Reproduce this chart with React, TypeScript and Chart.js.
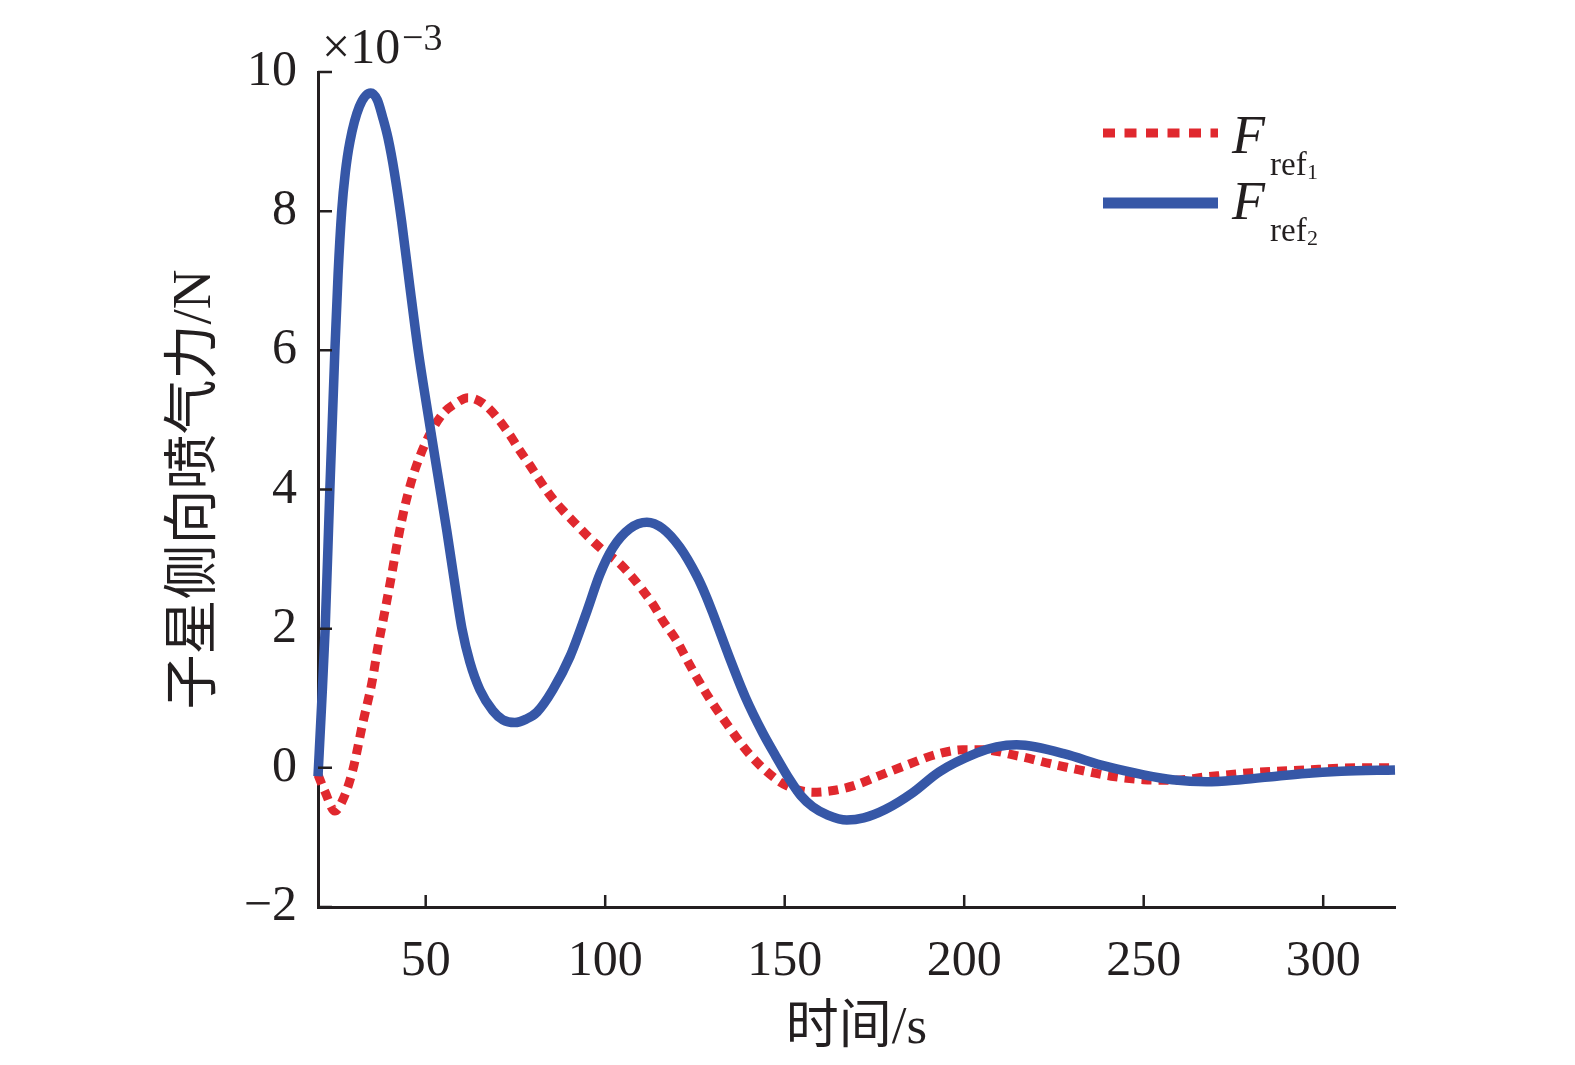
import { useEffect, useRef } from "react";
import { Chart, registerables } from "chart.js";

Chart.register(...registerables);

// time (s) and force (×10^-3 N)
const timeRef1 = [
  20, 22, 24.7, 27, 29.7, 32.5, 35, 36.7, 38.7, 40.6, 42.3, 44.2, 46.2, 48.4, 51.2, 54.8, 58.7, 61.8,
  65.9, 69.8, 73.5, 76.2, 79, 81.8, 84.6, 88.2, 92.1, 95.7, 99.3, 104, 107.7, 110.5, 113.3, 116, 120,
  122.7, 125.5, 129, 133.9, 140.3, 147.8, 152.5, 157.8, 163, 169, 176, 184, 192, 199.6, 205, 215, 224,
  232, 241, 250, 258, 267.5, 280, 295, 310, 320,
];
const forceRef1 = [
  -0.1, -0.35, -0.62, -0.45, -0.03, 0.65, 1.22, 1.74, 2.27, 2.8, 3.29, 3.76, 4.15, 4.48, 4.8, 5.09, 5.25, 5.32,
  5.24, 5.04, 4.78, 4.56, 4.35, 4.13, 3.92, 3.7, 3.49, 3.3, 3.13, 2.94, 2.73, 2.55, 2.35, 2.12, 1.82,
  1.56, 1.3, 1.0, 0.63, 0.19, -0.17, -0.3, -0.35, -0.33, -0.26, -0.12, 0.04, 0.19, 0.26, 0.26, 0.17, 0.06,
  -0.03, -0.12, -0.17, -0.18, -0.13, -0.07, -0.03, 0, 0,
];

const timeRef2 = [
  20, 21, 22, 23.3, 24.7, 25.6, 26.6, 27.6, 28.9, 31.5, 34.7, 36.5, 38, 39.5, 41.3, 43.3, 45.5, 47.9,
  50.6, 53.4, 55.9, 58, 60.1, 62.3, 65.1, 68.7, 71.5, 74.8, 78, 81, 85.4, 90.2, 94.9, 98.5, 102.1,
  106.9, 111.6, 116, 120.8, 125.5, 128, 130, 134.5, 139, 143.9, 147.5, 151.4, 154.5, 157.8, 162, 167.3,
  172, 178, 185.6, 193, 203.4, 209, 214.6, 220, 228, 239.6, 250, 258, 267.5, 277, 287, 295, 305, 320,
];
const forceRef2 = [
  -0.12, 0.9, 2.0, 4.0, 6.0, 7.1, 8.0, 8.55, 9.0, 9.5, 9.7, 9.6, 9.35, 9.05, 8.55, 7.85, 6.95, 6.0,
  5.1, 4.2, 3.4, 2.68, 2.0, 1.52, 1.12, 0.82, 0.69, 0.65, 0.7, 0.8, 1.12, 1.6, 2.25, 2.78, 3.16,
  3.44, 3.53, 3.44, 3.17, 2.76, 2.48, 2.22, 1.6, 1.02, 0.5, 0.17, -0.17, -0.4, -0.56, -0.68, -0.75,
  -0.72, -0.6, -0.36, -0.06, 0.21, 0.3, 0.33, 0.3, 0.2, 0.02, -0.1, -0.17, -0.2, -0.17, -0.12, -0.08, -0.05, -0.03,
];

const xTicks = [50, 100, 150, 200, 250, 300];
const yTicks = [-2, 0, 2, 4, 6, 8, 10];

const SERIF = '"Liberation Serif", "Times New Roman", serif';
const TITLE_FONT = '"Liberation Serif", "Noto Sans CJK SC", serif';
const AXIS = "#231f20";
const RED = "#e0282e";
const BLUE = "#3657a7";

const fmt = (v: number) => (v < 0 ? "\u2212" + Math.abs(v) : String(v));

// inward tick marks, the ×10^-3 multiplier and the subscripted legend
const overlay = {
  id: "overlay",
  afterDraw(chart: Chart) {
    const { ctx, chartArea: a, scales } = chart;
    ctx.save();
    ctx.strokeStyle = AXIS;
    ctx.lineWidth = 2.5;
    ctx.beginPath();
    xTicks.forEach((t) => {
      const px = scales.x.getPixelForValue(t);
      ctx.moveTo(px, a.bottom);
      ctx.lineTo(px, a.bottom - 12);
    });
    yTicks.forEach((t) => {
      const py = scales.y.getPixelForValue(t);
      ctx.moveTo(a.left, py);
      ctx.lineTo(a.left + 14, py);
    });
    ctx.stroke();

    ctx.fillStyle = AXIS;
    ctx.textAlign = "left";
    ctx.textBaseline = "alphabetic";
    ctx.font = `50px ${SERIF}`;
    ctx.fillText("×10", a.left + 4, 63);
    ctx.font = `38px ${SERIF}`;
    ctx.fillText("\u22123", a.left + 84, 50);

    const entries = [
      { color: RED, dash: [12, 9.5], width: 9, line: 133, text: 153, sub: "1" },
      { color: BLUE, dash: [] as number[], width: 11, line: 203, text: 219, sub: "2" },
    ];
    entries.forEach((e) => {
      ctx.strokeStyle = e.color;
      ctx.lineWidth = e.width;
      ctx.lineCap = "butt";
      ctx.setLineDash(e.dash);
      ctx.beginPath();
      ctx.moveTo(1103, e.line);
      ctx.lineTo(1218, e.line);
      ctx.stroke();
      ctx.setLineDash([]);
      ctx.fillStyle = AXIS;
      ctx.font = `italic 54px ${SERIF}`;
      ctx.fillText("F", 1232, e.text);
      ctx.font = `33px ${SERIF}`;
      ctx.fillText("ref", 1270, e.text + 22);
      ctx.font = `22px ${SERIF}`;
      ctx.fillText(e.sub, 1307, e.text + 26);
    });
    ctx.restore();
  },
};

export default function App() {
  const canvasRef = useRef<HTMLCanvasElement | null>(null);
  const chartRef = useRef<Chart | null>(null);

  useEffect(() => {
    if (!canvasRef.current) return;
    document.body.style.margin = "0";
    chartRef.current?.destroy();

    chartRef.current = new Chart(canvasRef.current, {
      type: "line",
      data: {
        datasets: [
          {
            label: "Fref2",
            data: timeRef2.map((x, i) => ({ x, y: forceRef2[i] })),
            borderColor: BLUE,
            borderWidth: 9.5,
            cubicInterpolationMode: "monotone",
            pointRadius: 0,
            fill: false,
            clip: false,
            order: 0,
          },
          {
            label: "Fref1",
            data: timeRef1.map((x, i) => ({ x, y: forceRef1[i] })),
            borderColor: RED,
            borderWidth: 9,
            borderDash: [10, 7],
            borderCapStyle: "butt",
            cubicInterpolationMode: "monotone",
            pointRadius: 0,
            fill: false,
            clip: false,
            order: 1,
          },
        ],
      },
      options: {
        animation: false,
        responsive: true,
        maintainAspectRatio: false,
        layout: { padding: { left: 0, right: 180, top: 72, bottom: 0 } },
        plugins: { legend: { display: false }, tooltip: { enabled: false } },
        scales: {
          x: {
            type: "linear",
            min: 20,
            max: 320,
            afterBuildTicks: (s: any) => {
              s.ticks = xTicks.map((value) => ({ value }));
            },
            afterFit: (s: any) => {
              s.height = 158;
            },
            grid: { display: true, drawOnChartArea: false, drawTicks: false },
            border: { display: true, color: AXIS, width: 3 },
            ticks: {
              padding: 25,
              color: AXIS,
              font: { family: SERIF, size: 50 },
              callback: (v: any) => fmt(Number(v)),
            },
            title: {
              display: true,
              text: "时间/s",
              color: AXIS,
              font: { family: TITLE_FONT, size: 53 },
              padding: { top: 0, bottom: 4 },
            },
          },
          y: {
            type: "linear",
            min: -2,
            max: 10,
            afterBuildTicks: (s: any) => {
              s.ticks = yTicks.map((value) => ({ value }));
            },
            afterFit: (s: any) => {
              s.width = 318;
            },
            grid: { display: true, drawOnChartArea: false, drawTicks: false },
            border: { display: true, color: AXIS, width: 3 },
            ticks: {
              padding: 21,
              color: AXIS,
              font: { family: SERIF, size: 50 },
              callback: (v: any) => fmt(Number(v)),
            },
            title: {
              display: true,
              text: "子星侧向喷气力/N",
              color: AXIS,
              font: { family: TITLE_FONT, size: 55 },
              padding: { top: 163, bottom: 0 },
            },
          },
        },
      },
      plugins: [overlay],
    });

    return () => {
      chartRef.current?.destroy();
      chartRef.current = null;
    };
  }, []);

  return (
    <div style={{ position: "fixed", left: 0, top: 0, width: "100vw", height: "100vh", background: "#fff" }}>
      <canvas ref={canvasRef} />
    </div>
  );
}
